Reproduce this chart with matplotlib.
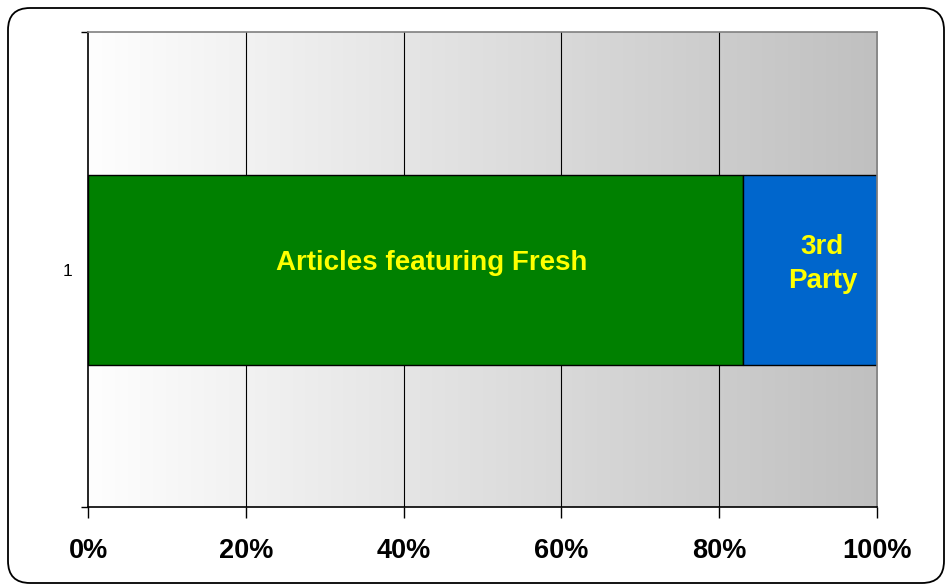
import numpy as np
import matplotlib
matplotlib.use("Agg")
import matplotlib.pyplot as plt
from matplotlib.patches import FancyBboxPatch

plt.rcParams['font.family'] = ['Liberation Sans', 'DejaVu Sans']

categories = ["1"]
series_names = ["Articles featuring Fresh", "3rd\nParty"]
series_values = [83, 17]
series_colors = ["#008000", "#0066cc"]
x_ticks = [0, 20, 40, 60, 80, 100]
x_tick_labels = ["0%", "20%", "40%", "60%", "80%", "100%"]

# label placement tweaks (points)
label_offsets = [(12, 5), (9, 4)]

W, H, DPI = 946, 588, 100
fig = plt.figure(figsize=(W / DPI, H / DPI), dpi=DPI)

# rounded outer frame
frame = FancyBboxPatch((8, 5), 936, 575, boxstyle="round,pad=0,rounding_size=22",
                       transform=None, facecolor="white", edgecolor="black",
                       linewidth=1.3, zorder=-10)
fig.patches.append(frame)

ax = fig.add_axes([88 / W, 1 - 507 / H, (877 - 88) / W, (507 - 32) / H])
ax.set_xlim(0, 100)
ax.set_ylim(0.5, 1.5)

# horizontal grey gradient background
grad = np.linspace(0xfe, 0xc0, 256) / 255.0
img = np.stack([grad, grad, grad], axis=-1)[None, :, :].repeat(2, axis=0)
ax.imshow(img, extent=[0, 100, 0.5, 1.5], aspect="auto", zorder=0,
          interpolation="bilinear")

for x in x_ticks[1:-1]:
    ax.axvline(x, color="black", linewidth=0.8, zorder=1)

left = 0
y = np.arange(1, len(categories) + 1)
for name, val, col, off in zip(series_names, series_values, series_colors, label_offsets):
    ax.barh(y, [val], left=[left], height=0.4, color=col, edgecolor="black",
            linewidth=1.0, zorder=2)
    ax.annotate(name, (left + val / 2, y[0]), xytext=off,
                textcoords="offset points", ha="center", va="center",
                color="#ffff00", fontsize=20, fontweight="bold", zorder=3,
                linespacing=1.4)
    left += val

ax.set_xticks(x_ticks)
ax.set_xticklabels(x_tick_labels, fontsize=19.5, fontweight="bold")
ax.set_yticks([0.5, 1.5], minor=False)
ax.set_yticklabels(["", ""])
ax.set_yticks(y, minor=True)
ax.set_yticklabels(categories, minor=True, fontsize=12.5)
ax.tick_params(axis="y", which="minor", length=0, pad=11)
ax.tick_params(axis="y", which="major", length=5, width=1, color="black")
ax.tick_params(axis="x", length=8, width=1, pad=14)

ax.spines["left"].set_color("black")
ax.spines["bottom"].set_color("black")
ax.spines["top"].set_color("#808080")
ax.spines["right"].set_color("#808080")
for s in ax.spines.values():
    s.set_linewidth(1.2)
    s.set_zorder(4)

fig.savefig("out.png", dpi=DPI, facecolor="white")
